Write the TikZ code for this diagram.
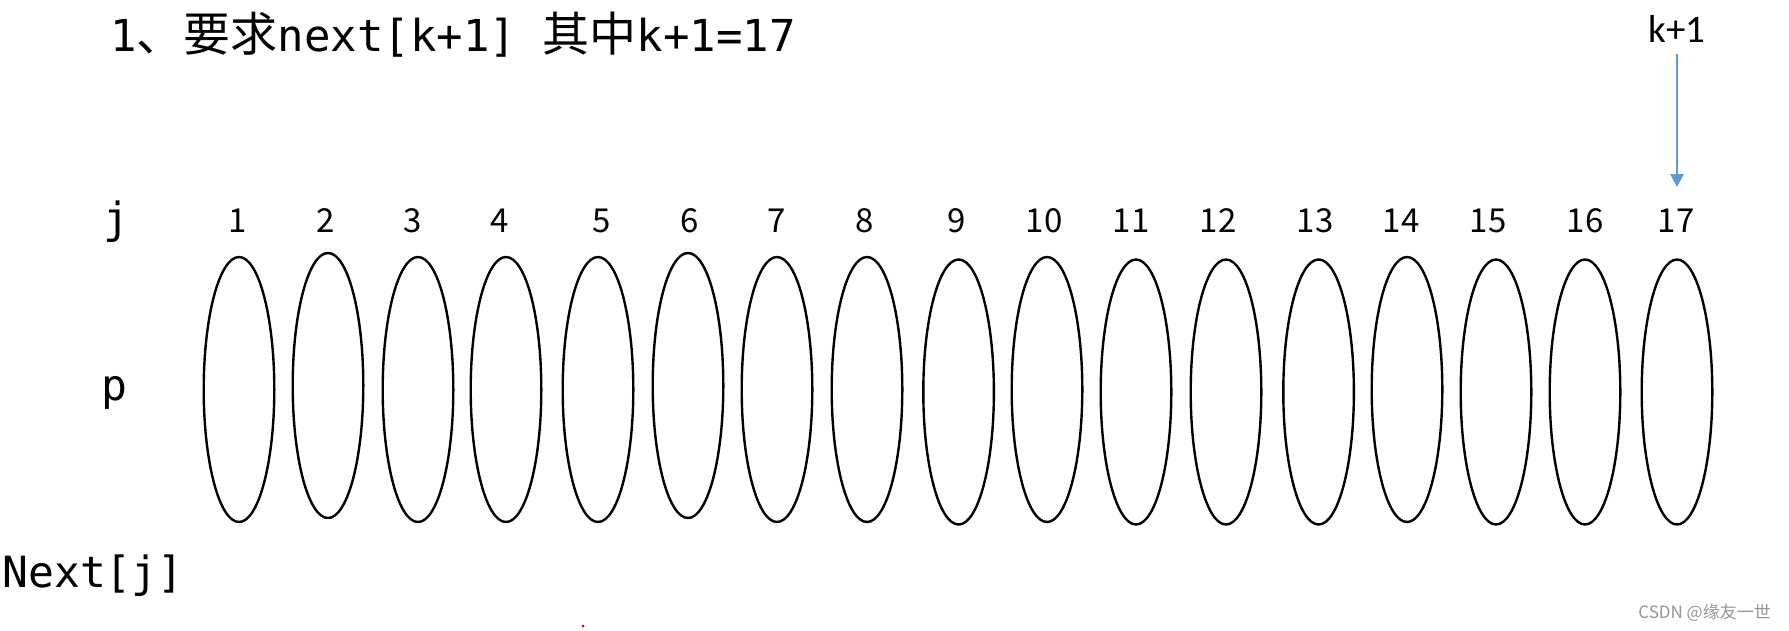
\documentclass[tikz,border=0pt]{standalone}
\usepackage{fontspec}
\newfontfamily\cjkfont{Noto Sans CJK SC}
\newfontfamily\codefont{DejaVu Sans Mono}
\newfontfamily\labfont{Carlito}
\usetikzlibrary{shapes.geometric,arrows.meta}
\definecolor{ptrblue}{RGB}{91,155,213}
\definecolor{markgray}{RGB}{150,150,150}
\definecolor{dotred}{RGB}{192,0,0}
\newcommand{\hz}[1]{{\cjkfont\fontsize{23.5}{26}\selectfont #1}}

\begin{document}
\begin{tikzpicture}[x=0.5pt,y=-0.5pt,
    cell/.style={ellipse,draw,line width=1.2pt,minimum width=35.3pt,minimum height=132.5pt,inner sep=0pt},
    idx/.style={anchor=base,inner sep=0pt,font=\cjkfont\fontsize{16.5}{18}\selectfont},
    row/.style={anchor=base,inner sep=0pt,font=\codefont\fontsize{21.5}{24}\selectfont},
    ptr/.style={ptrblue,line width=1.4pt,-{Triangle[width=6.5pt,length=6.5pt]}}]
    \fill[white] (0,0) rectangle (1789,631);
    \useasboundingbox (0,0) rectangle (1789,631);
    \def\es{(239,389.5),(328,385.5),(418,389.5),(506,389.5),(598,389.5),(688,385.5),(777,389.5),(867,389.5),(958.6,392),(1047,389.5),(1136,392),(1226,392),(1318.6,392),(1407,389.5),(1496,392),(1585,392),(1677,392)}
    %         1           2           3           4           5           6           7           8           9            10           11         12         13           14           15         16         17
    \def\ns{238,326,413,500,602,690,777,865,957,1044,1131,1218,1315,1401,1488,1585,1676}
    \foreach \e [count=\i from 1] in \es {\node[cell] (e\i) at \e {};}
    \foreach \n [count=\i from 1] in \ns {\node[idx] (n\i) at (\n,232) {\i};}
    \node[row,anchor=base west,font=\codefont\fontsize{22}{26}\selectfont] (title) at (110,52) {1\hz{、要求}next[k+1] \hz{其中}k+1=17};
    \node[row] (j) at (116,233) {j};
    \node[row] (p) at (114,400) {p};
    \node[row,anchor=base west] (next) at (2,587) {Next[j]};
    \node[anchor=base,inner sep=0pt,font=\labfont\fontsize{19.5}{22}\selectfont] (kk) at (1677,43) {k+1};
    \draw[ptr,shorten <=5.5pt,shorten >=10.5pt] (kk.south) -- (kk.south |- n17.north);
    \node[anchor=base west,inner sep=0pt,text=markgray,font=\cjkfont\fontsize{8.5}{10}\selectfont] (mark) at (1638,618) {CSDN @缘友一世};
    \fill[dotred] (583,626) circle[radius=1.5];
  \end{tikzpicture}
\end{document}
